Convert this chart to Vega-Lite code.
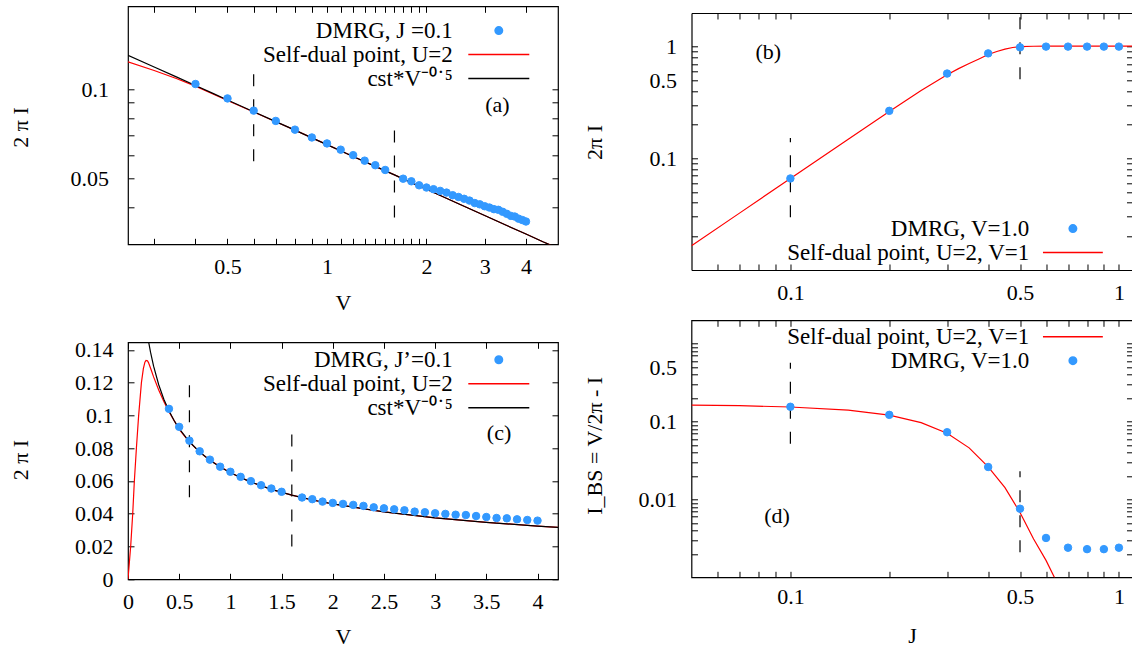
{
"$schema": "https://vega.github.io/schema/vega-lite/v6.json",
"padding": {"left": 9, "top": 4.3, "right": 0, "bottom": 0},
"background": "white",
"config": {
 "view": {"stroke": "black", "strokeWidth": 1.2},
 "font": "Liberation Serif",
 "axis": {"labelFont": "Liberation Serif", "labelFontSize": 22, "labelColor": "black", "titleFont": "Liberation Serif", "titleFontSize": 22, "titleFontWeight": "normal", "titleColor": "black", "tickColor": "black", "tickSize": -6, "tickWidth": 1, "grid": false, "domain": false, "domainColor": "black", "domainWidth": 1.2, "labelFlush": false, "labelOverlap": false, "labelBound": false, "labelAngle": 0},
 "legend": {"labelFont": "Liberation Serif", "labelFontSize": 23, "labelColor": "black", "labelLimit": 600, "symbolStrokeWidth": 1.5, "padding": 0, "symbolSize": 56},
 "text": {"font": "Liberation Serif", "fontSize": 22, "color": "black"}
},
"datasets": {
 "dmrgV": [
  {"V":0.4,"I":0.104,"s":"dmrg"},{"V":0.5,"I":0.093,"s":"dmrg"},{"V":0.6,"I":0.0846,"s":"dmrg"},{"V":0.7,"I":0.0781,"s":"dmrg"},{"V":0.8,"I":0.073,"s":"dmrg"},{"V":0.9,"I":0.0687,"s":"dmrg"},{"V":1.0,"I":0.0656,"s":"dmrg"},{"V":1.1,"I":0.0625,"s":"dmrg"},{"V":1.2,"I":0.0599,"s":"dmrg"},{"V":1.3,"I":0.0574,"s":"dmrg"},{"V":1.4,"I":0.0554,"s":"dmrg"},{"V":1.5,"I":0.0534,"s":"dmrg"},{"V":1.7,"I":0.0499,"s":"dmrg"},{"V":1.8,"I":0.0489,"s":"dmrg"},{"V":1.9,"I":0.0474,"s":"dmrg"},{"V":2.0,"I":0.0466,"s":"dmrg"},{"V":2.1,"I":0.046,"s":"dmrg"},{"V":2.2,"I":0.0454,"s":"dmrg"},{"V":2.3,"I":0.0448,"s":"dmrg"},{"V":2.4,"I":0.0439,"s":"dmrg"},{"V":2.5,"I":0.0433,"s":"dmrg"},{"V":2.6,"I":0.0427,"s":"dmrg"},{"V":2.7,"I":0.0421,"s":"dmrg"},{"V":2.8,"I":0.0413,"s":"dmrg"},{"V":2.9,"I":0.0409,"s":"dmrg"},{"V":3.0,"I":0.0403,"s":"dmrg"},{"V":3.1,"I":0.0399,"s":"dmrg"},{"V":3.2,"I":0.0394,"s":"dmrg"},{"V":3.3,"I":0.0392,"s":"dmrg"},{"V":3.4,"I":0.0386,"s":"dmrg"},{"V":3.5,"I":0.038,"s":"dmrg"},{"V":3.6,"I":0.0374,"s":"dmrg"},{"V":3.7,"I":0.0372,"s":"dmrg"},{"V":3.8,"I":0.0366,"s":"dmrg"},{"V":3.9,"I":0.0362,"s":"dmrg"},{"V":4.0,"I":0.0358,"s":"dmrg"}
 ],
 "sdV": [
  {"V":0,"I":0,"s":"sd"},{"V":0.013,"I":0.01,"s":"sd"},{"V":0.026,"I":0.02,"s":"sd"},{"V":0.046,"I":0.04,"s":"sd"},{"V":0.062,"I":0.06,"s":"sd"},{"V":0.082,"I":0.08,"s":"sd"},{"V":0.104,"I":0.1,"s":"sd"},{"V":0.131,"I":0.12,"s":"sd"},{"V":0.15,"I":0.1285,"s":"sd"},{"V":0.165,"I":0.1325,"s":"sd"},{"V":0.176,"I":0.1335,"s":"sd"},{"V":0.19,"I":0.1333,"s":"sd"},{"V":0.2,"I":0.1322,"s":"sd"},{"V":0.225,"I":0.128,"s":"sd"},{"V":0.25,"I":0.1235,"s":"sd"},{"V":0.3,"I":0.1155,"s":"sd"},{"V":0.35,"I":0.1085,"s":"sd"},{"V":0.4,"I":0.1023,"s":"sd"},{"V":0.5,"I":0.0915,"s":"sd"},{"V":0.6,"I":0.0837,"s":"sd"},{"V":0.7,"I":0.0776,"s":"sd"},{"V":0.8,"I":0.0727,"s":"sd"},{"V":1,"I":0.065,"s":"sd"},{"V":1.2,"I":0.0593,"s":"sd"},{"V":1.4,"I":0.0549,"s":"sd"},{"V":1.6,"I":0.0514,"s":"sd"},{"V":1.8,"I":0.0484,"s":"sd"},{"V":2,"I":0.046,"s":"sd"},{"V":2.5,"I":0.0411,"s":"sd"},{"V":3,"I":0.0375,"s":"sd"},{"V":3.5,"I":0.0347,"s":"sd"},{"V":4,"I":0.0325,"s":"sd"},{"V":4.5,"I":0.0306,"s":"sd"},{"V":5,"I":0.0291,"s":"sd"}
 ],
 "cstV": [
  {"V":0.2,"I":0.1453,"s":"cst"},{"V":0.22,"I":0.1386,"s":"cst"},{"V":0.25,"I":0.13,"s":"cst"},{"V":0.3,"I":0.1187,"s":"cst"},{"V":0.35,"I":0.1099,"s":"cst"},{"V":0.4,"I":0.1028,"s":"cst"},{"V":0.45,"I":0.0969,"s":"cst"},{"V":0.5,"I":0.0919,"s":"cst"},{"V":0.6,"I":0.0839,"s":"cst"},{"V":0.7,"I":0.0777,"s":"cst"},{"V":0.8,"I":0.0727,"s":"cst"},{"V":0.9,"I":0.0685,"s":"cst"},{"V":1,"I":0.065,"s":"cst"},{"V":1.2,"I":0.0593,"s":"cst"},{"V":1.4,"I":0.0549,"s":"cst"},{"V":1.6,"I":0.0514,"s":"cst"},{"V":1.8,"I":0.0484,"s":"cst"},{"V":2,"I":0.046,"s":"cst"},{"V":2.5,"I":0.0411,"s":"cst"},{"V":3,"I":0.0375,"s":"cst"},{"V":3.5,"I":0.0347,"s":"cst"},{"V":4,"I":0.0325,"s":"cst"},{"V":4.5,"I":0.0306,"s":"cst"},{"V":5,"I":0.0291,"s":"cst"}
 ],
 "dashA": [{"V":0.6,"lo":0.0571,"hi":0.1121},{"V":1.6,"lo":0.0369,"hi":0.0727}],
 "dashC": [{"V":0.6,"lo":0.05,"hi":0.1185},{"V":1.6,"lo":0.02,"hi":0.0887}],
 "dmrgJb": [
  {"J":0.1,"I":0.066,"s":"dmrg"},{"J":0.2,"I":0.266,"s":"dmrg"},{"J":0.3,"I":0.574,"s":"dmrg"},{"J":0.4,"I":0.87,"s":"dmrg"},{"J":0.5,"I":0.985,"s":"dmrg"},{"J":0.6,"I":1.0,"s":"dmrg"},{"J":0.7,"I":1.0,"s":"dmrg"},{"J":0.8,"I":1.0,"s":"dmrg"},{"J":0.9,"I":1.0,"s":"dmrg"},{"J":1.0,"I":1.0,"s":"dmrg"}
 ],
 "sdJb": [
  {"J":0.05,"I":0.0165,"s":"sd"},{"J":0.07,"I":0.0323,"s":"sd"},{"J":0.1,"I":0.066,"s":"sd"},{"J":0.15,"I":0.148,"s":"sd"},{"J":0.2,"I":0.262,"s":"sd"},{"J":0.25,"I":0.405,"s":"sd"},{"J":0.3,"I":0.56,"s":"sd"},{"J":0.325,"I":0.635,"s":"sd"},{"J":0.35,"I":0.705,"s":"sd"},{"J":0.375,"I":0.775,"s":"sd"},{"J":0.4,"I":0.85,"s":"sd"},{"J":0.425,"I":0.905,"s":"sd"},{"J":0.45,"I":0.95,"s":"sd"},{"J":0.475,"I":0.982,"s":"sd"},{"J":0.5,"I":0.998,"s":"sd"},{"J":0.55,"I":1.008,"s":"sd"},{"J":0.6,"I":1.01,"s":"sd"},{"J":0.8,"I":1.01,"s":"sd"},{"J":1.1,"I":1.01,"s":"sd"}
 ],
 "dashB": [{"J":0.1,"lo":0.0297,"hi":0.152},{"J":0.5,"lo":0.511,"hi":1.97}],
 "dmrgJd": [
  {"J":0.1,"I":0.155,"s":"dmrg"},{"J":0.2,"I":0.122,"s":"dmrg"},{"J":0.3,"I":0.073,"s":"dmrg"},{"J":0.4,"I":0.0261,"s":"dmrg"},{"J":0.5,"I":0.0076,"s":"dmrg"},{"J":0.6,"I":0.0032,"s":"dmrg"},{"J":0.7,"I":0.0024,"s":"dmrg"},{"J":0.8,"I":0.0023,"s":"dmrg"},{"J":0.9,"I":0.0023,"s":"dmrg"},{"J":1.0,"I":0.0024,"s":"dmrg"}
 ],
 "sdJd": [
  {"J":0.05,"I":0.163,"s":"sd"},{"J":0.07,"I":0.16,"s":"sd"},{"J":0.1,"I":0.154,"s":"sd"},{"J":0.15,"I":0.14,"s":"sd"},{"J":0.2,"I":0.121,"s":"sd"},{"J":0.25,"I":0.097,"s":"sd"},{"J":0.3,"I":0.071,"s":"sd"},{"J":0.35,"I":0.046,"s":"sd"},{"J":0.4,"I":0.0262,"s":"sd"},{"J":0.45,"I":0.0142,"s":"sd"},{"J":0.5,"I":0.0068,"s":"sd"},{"J":0.55,"I":0.0031,"s":"sd"},{"J":0.6,"I":0.00165,"s":"sd"},{"J":0.64,"I":0.00095,"s":"sd"}
 ],
 "dashD": [{"J":0.1,"lo":0.0519,"hi":0.571},{"J":0.5,"lo":0.0021,"hi":0.023}]
},
"hconcat": [
 {"vconcat": [
  {"width": 430, "height": 238,
   "layer": [
    {"data": {"name": "dashA"}, "mark": {"type": "rule", "strokeDash": [12, 13], "color": "black", "strokeWidth": 1.2},
     "encoding": {
      "x": {"field": "V", "type": "quantitative", "scale": {"type": "log", "domain": [0.25, 5], "nice": false},
            "axis": {"orient": "bottom", "values": [0.3,0.4,0.5,0.6,0.7,0.8,0.9,1,1.1,1.2,1.3,1.4,1.5,1.6,1.7,1.8,1.9,2,3,4], "labelExpr": "indexof([0.5,1,2,3,4], datum.value) >= 0 ? format(datum.value, '~g') : ''", "labelBaseline": "middle", "labelPadding": 28.5, "title": "V", "titleX": 215, "titleY": 65, "titleBaseline": "alphabetic"}},
      "y": {"field": "lo", "type": "quantitative", "scale": {"type": "log", "domain": [0.03, 0.19], "nice": false},
            "axis": {"orient": "left", "values": [0.04,0.05,0.06,0.07,0.08,0.09,0.1], "labelExpr": "indexof([0.05,0.1], datum.value) >= 0 ? format(datum.value, '~g') : ''", "labelPadding": 25.5, "title": "2 π I", "titleX": -107.3, "titleY": 120.7, "titleBaseline": "middle"}},
      "y2": {"field": "hi"}
     }},
    {"data": {"name": "sdV"}, "transform": [{"filter": "datum.V > 0"}], "mark": {"type": "line", "clip": true, "strokeWidth": 1.2},
     "encoding": {
      "x": {"field": "V", "type": "quantitative", "axis": {"orient": "top", "values": [0.3,0.4,0.5,0.6,0.7,0.8,0.9,1,1.1,1.2,1.3,1.4,1.5,1.6,1.7,1.8,1.9,2,3,4], "labels": false, "title": null}},
      "y": {"field": "I", "type": "quantitative", "axis": {"orient": "right", "values": [0.04,0.05,0.06,0.07,0.08,0.09,0.1], "labels": false, "title": null}},
      "stroke": {"field": "s", "type": "nominal", "scale": {"domain": ["dmrg","sd","cst"], "range": ["#3399ff","#ff0000","#000000"]},
                 "legend": {"orient": "none", "legendX": 359.3, "legendY": 12.8, "title": null, "labelAlign": "right", "labelOffset": -57.6, "rowPadding": -0.6, "labelExpr": "datum.value == 'dmrg' ? 'DMRG, J =0.1' : datum.value == 'sd' ? 'Self-dual point, U=2' : 'cst*V⁻⁰˙⁵'"}}
     }},
    {"data": {"name": "cstV"}, "mark": {"type": "line", "clip": true, "strokeWidth": 1.2},
     "encoding": {
      "x": {"field": "V", "type": "quantitative", "axis": null},
      "y": {"field": "I", "type": "quantitative", "axis": null},
      "stroke": {"field": "s", "type": "nominal", "scale": {"domain": ["dmrg","sd","cst"], "range": ["#3399ff","#ff0000","#000000"]},
                 "legend": {"orient": "none", "legendX": 359.3, "legendY": 12.8, "title": null, "labelAlign": "right", "labelOffset": -57.6, "rowPadding": -0.6, "labelExpr": "datum.value == 'dmrg' ? 'DMRG, J =0.1' : datum.value == 'sd' ? 'Self-dual point, U=2' : 'cst*V⁻⁰˙⁵'"}}
     }},
    {"data": {"name": "dmrgV"}, "mark": {"type": "point", "opacity": 1, "clip": true, "strokeWidth": 1, "size": 56},
     "encoding": {
      "x": {"field": "V", "type": "quantitative", "axis": null},
      "y": {"field": "I", "type": "quantitative", "axis": null},
      "fill": {"field": "s", "type": "nominal", "scale": {"domain": ["dmrg","sd","cst"], "range": ["#3399ff","transparent","transparent"]},
               "legend": {"orient": "none", "legendX": 359.3, "legendY": 12.8, "title": null, "labelAlign": "right", "labelOffset": -57.6, "rowPadding": -0.6, "labelExpr": "datum.value == 'dmrg' ? 'DMRG, J =0.1' : datum.value == 'sd' ? 'Self-dual point, U=2' : 'cst*V⁻⁰˙⁵'"}},
      "stroke": {"field": "s", "type": "nominal", "scale": {"domain": ["dmrg","sd","cst"], "range": ["#3399ff","#ff0000","#000000"]},
                 "legend": {"orient": "none", "legendX": 359.3, "legendY": 12.8, "title": null, "labelAlign": "right", "labelOffset": -57.6, "rowPadding": -0.6, "labelExpr": "datum.value == 'dmrg' ? 'DMRG, J =0.1' : datum.value == 'sd' ? 'Self-dual point, U=2' : 'cst*V⁻⁰˙⁵'"}},
      "shape": {"field": "s", "type": "nominal", "scale": {"domain": ["dmrg","sd","cst"], "range": ["circle","M-8.15,0H8.15","M-8.15,0H8.15"]},
                "legend": {"orient": "none", "legendX": 359.3, "legendY": 12.8, "title": null, "labelAlign": "right", "labelOffset": -57.6, "rowPadding": -0.6, "labelExpr": "datum.value == 'dmrg' ? 'DMRG, J =0.1' : datum.value == 'sd' ? 'Self-dual point, U=2' : 'cst*V⁻⁰˙⁵'"}}
     }},
    {"data": {"values": [{}]}, "mark": {"type": "text", "text": "(a)", "align": "center", "baseline": "middle"},
     "encoding": {"x": {"datum": 3.28, "type": "quantitative", "axis": null}, "y": {"datum": 0.0885, "type": "quantitative", "axis": null}}}
   ],
   "resolve": {"axis": {"x": "independent", "y": "independent"}}
  },
  {"width": 430, "height": 237,
   "layer": [
    {"data": {"name": "dashC"}, "mark": {"type": "rule", "strokeDash": [12, 13], "color": "black", "strokeWidth": 1.2},
     "encoding": {
      "x": {"field": "V", "type": "quantitative", "scale": {"domain": [0, 4.2], "nice": false, "zero": false},
            "axis": {"orient": "bottom", "values": [0,0.5,1,1.5,2,2.5,3,3.5,4], "format": "~g", "labelBaseline": "middle", "labelPadding": 28, "title": "V", "titleX": 215, "titleY": 64.5, "titleBaseline": "alphabetic"}},
      "y": {"field": "lo", "type": "quantitative", "scale": {"domain": [0, 0.1446], "nice": false},
            "axis": {"orient": "left", "values": [0,0.02,0.04,0.06,0.08,0.1,0.12,0.14], "format": "~g", "labelPadding": 21, "title": "2 π I", "titleX": -107.3, "titleY": 117.3, "titleBaseline": "middle"}},
      "y2": {"field": "hi"}
     }},
    {"data": {"name": "sdV"}, "mark": {"type": "line", "clip": true, "strokeWidth": 1.2},
     "encoding": {
      "x": {"field": "V", "type": "quantitative", "axis": {"orient": "top", "values": [0,0.5,1,1.5,2,2.5,3,3.5,4], "labels": false, "title": null}},
      "y": {"field": "I", "type": "quantitative", "axis": {"orient": "right", "values": [0,0.02,0.04,0.06,0.08,0.1,0.12,0.14], "labels": false, "title": null}},
      "stroke": {"field": "s", "type": "nominal", "scale": {"domain": ["dmrg","sd","cst"], "range": ["#3399ff","#ff0000","#000000"]},
                 "legend": {"orient": "none", "legendX": 359.3, "legendY": 6, "title": null, "labelAlign": "right", "labelOffset": -57.6, "rowPadding": -0.6, "labelExpr": "datum.value == 'dmrg' ? 'DMRG, J’=0.1' : datum.value == 'sd' ? 'Self-dual point, U=2' : 'cst*V⁻⁰˙⁵'"}}
     }},
    {"data": {"name": "cstV"}, "mark": {"type": "line", "clip": true, "strokeWidth": 1.2},
     "encoding": {
      "x": {"field": "V", "type": "quantitative", "axis": null},
      "y": {"field": "I", "type": "quantitative", "axis": null},
      "stroke": {"field": "s", "type": "nominal", "scale": {"domain": ["dmrg","sd","cst"], "range": ["#3399ff","#ff0000","#000000"]},
                 "legend": {"orient": "none", "legendX": 359.3, "legendY": 6, "title": null, "labelAlign": "right", "labelOffset": -57.6, "rowPadding": -0.6, "labelExpr": "datum.value == 'dmrg' ? 'DMRG, J’=0.1' : datum.value == 'sd' ? 'Self-dual point, U=2' : 'cst*V⁻⁰˙⁵'"}}
     }},
    {"data": {"name": "dmrgV"}, "mark": {"type": "point", "opacity": 1, "clip": true, "strokeWidth": 1, "size": 56},
     "encoding": {
      "x": {"field": "V", "type": "quantitative", "axis": null},
      "y": {"field": "I", "type": "quantitative", "axis": null},
      "fill": {"field": "s", "type": "nominal", "scale": {"domain": ["dmrg","sd","cst"], "range": ["#3399ff","transparent","transparent"]},
               "legend": {"orient": "none", "legendX": 359.3, "legendY": 6, "title": null, "labelAlign": "right", "labelOffset": -57.6, "rowPadding": -0.6, "labelExpr": "datum.value == 'dmrg' ? 'DMRG, J’=0.1' : datum.value == 'sd' ? 'Self-dual point, U=2' : 'cst*V⁻⁰˙⁵'"}},
      "stroke": {"field": "s", "type": "nominal", "scale": {"domain": ["dmrg","sd","cst"], "range": ["#3399ff","#ff0000","#000000"]},
                 "legend": {"orient": "none", "legendX": 359.3, "legendY": 6, "title": null, "labelAlign": "right", "labelOffset": -57.6, "rowPadding": -0.6, "labelExpr": "datum.value == 'dmrg' ? 'DMRG, J’=0.1' : datum.value == 'sd' ? 'Self-dual point, U=2' : 'cst*V⁻⁰˙⁵'"}},
      "shape": {"field": "s", "type": "nominal", "scale": {"domain": ["dmrg","sd","cst"], "range": ["circle","M-8.15,0H8.15","M-8.15,0H8.15"]},
                "legend": {"orient": "none", "legendX": 359.3, "legendY": 6, "title": null, "labelAlign": "right", "labelOffset": -57.6, "rowPadding": -0.6, "labelExpr": "datum.value == 'dmrg' ? 'DMRG, J’=0.1' : datum.value == 'sd' ? 'Self-dual point, U=2' : 'cst*V⁻⁰˙⁵'"}}
     }},
    {"data": {"values": [{}]}, "mark": {"type": "text", "text": "(c)", "align": "center", "baseline": "middle"},
     "encoding": {"x": {"datum": 3.624, "type": "quantitative", "axis": null}, "y": {"datum": 0.0895, "type": "quantitative", "axis": null}}}
   ],
   "resolve": {"axis": {"x": "independent", "y": "independent"}}
  }
 ], "spacing": 98, "bounds": "flush",
 "resolve": {"scale": {"stroke": "independent", "fill": "independent", "shape": "independent"}}},
 {"vconcat": [
  {"width": 441, "height": 263.7, "view": {"stroke": null},
   "layer": [
    {"data": {"name": "dashB"}, "mark": {"type": "rule", "strokeDash": [12, 13], "color": "black", "strokeWidth": 1.2},
     "encoding": {
      "x": {"field": "J", "type": "quantitative", "scale": {"type": "log", "domain": [0.05, 1.1], "nice": false},
            "axis": {"orient": "bottom", "domain": true, "values": [0.06,0.07,0.08,0.09,0.1,0.2,0.3,0.4,0.5,0.6,0.7,0.8,0.9,1], "labelExpr": "indexof([0.1,0.5,1], datum.value) >= 0 ? format(datum.value, '~g') : ''", "labelBaseline": "middle", "labelPadding": 28.5, "title": null}},
      "y": {"field": "lo", "type": "quantitative", "scale": {"type": "log", "domain": [0.01, 2], "nice": false, "range": [263.7, 6.7]},
            "axis": {"orient": "left", "domain": true, "values": [0.02,0.03,0.04,0.05,0.06,0.07,0.08,0.09,0.1,0.2,0.3,0.4,0.5,0.6,0.7,0.8,0.9,1], "labelExpr": "indexof([0.1,0.5,1], datum.value) >= 0 ? format(datum.value, '~g') : ''", "labelPadding": 21, "title": "2π I", "titleX": -97, "titleY": 135.7, "titleBaseline": "middle"}},
      "y2": {"field": "hi"}
     }},
    {"data": {"name": "sdJb"}, "mark": {"type": "line", "clip": true, "strokeWidth": 1.2},
     "encoding": {
      "x": {"field": "J", "type": "quantitative", "axis": {"orient": "top", "domain": true, "offset": -6.7, "values": [0.06,0.07,0.08,0.09,0.1,0.2,0.3,0.4,0.5,0.6,0.7,0.8,0.9,1], "labels": false, "title": null}},
      "y": {"field": "I", "type": "quantitative", "axis": {"orient": "right", "domain": true, "values": [0.02,0.03,0.04,0.05,0.06,0.07,0.08,0.09,0.1,0.2,0.3,0.4,0.5,0.6,0.7,0.8,0.9,1], "labels": false, "title": null}},
      "stroke": {"field": "s", "type": "nominal", "scale": {"domain": ["dmrg","sd"], "range": ["#3399ff","#ff0000"]},
                 "legend": {"orient": "none", "legendX": 369.9, "legendY": 210.8, "title": null, "labelAlign": "right", "labelOffset": -55.2, "rowPadding": -0.9, "labelExpr": "datum.value == 'dmrg' ? 'DMRG, V=1.0' : 'Self-dual point, U=2, V=1'"}}
     }},
    {"data": {"name": "dmrgJb"}, "mark": {"type": "point", "opacity": 1, "clip": true, "strokeWidth": 1, "size": 56},
     "encoding": {
      "x": {"field": "J", "type": "quantitative", "axis": null},
      "y": {"field": "I", "type": "quantitative", "axis": null},
      "fill": {"field": "s", "type": "nominal", "scale": {"domain": ["dmrg","sd"], "range": ["#3399ff","transparent"]},
               "legend": {"orient": "none", "legendX": 369.9, "legendY": 210.8, "title": null, "labelAlign": "right", "labelOffset": -55.2, "rowPadding": -0.9, "labelExpr": "datum.value == 'dmrg' ? 'DMRG, V=1.0' : 'Self-dual point, U=2, V=1'"}},
      "stroke": {"field": "s", "type": "nominal", "scale": {"domain": ["dmrg","sd"], "range": ["#3399ff","#ff0000"]},
                 "legend": {"orient": "none", "legendX": 369.9, "legendY": 210.8, "title": null, "labelAlign": "right", "labelOffset": -55.2, "rowPadding": -0.9, "labelExpr": "datum.value == 'dmrg' ? 'DMRG, V=1.0' : 'Self-dual point, U=2, V=1'"}},
      "shape": {"field": "s", "type": "nominal", "scale": {"domain": ["dmrg","sd"], "range": ["circle","M-8,0H8"]},
                "legend": {"orient": "none", "legendX": 369.9, "legendY": 210.8, "title": null, "labelAlign": "right", "labelOffset": -55.2, "rowPadding": -0.9, "labelExpr": "datum.value == 'dmrg' ? 'DMRG, V=1.0' : 'Self-dual point, U=2, V=1'"}}
     }},
    {"data": {"values": [{}]}, "mark": {"type": "text", "text": "(b)", "align": "center", "baseline": "middle"},
     "encoding": {"x": {"datum": 0.0856, "type": "quantitative", "axis": null}, "y": {"datum": 0.9, "type": "quantitative", "axis": null}}}
   ],
   "resolve": {"axis": {"x": "independent", "y": "independent"}}
  },
  {"width": 441, "height": 257,
   "layer": [
    {"data": {"name": "dashD"}, "mark": {"type": "rule", "strokeDash": [12, 13], "color": "black", "strokeWidth": 1.2},
     "encoding": {
      "x": {"field": "J", "type": "quantitative", "scale": {"type": "log", "domain": [0.05, 1.1], "nice": false},
            "axis": {"orient": "bottom", "values": [0.06,0.07,0.08,0.09,0.1,0.2,0.3,0.4,0.5,0.6,0.7,0.8,0.9,1], "labelExpr": "indexof([0.1,0.5,1], datum.value) >= 0 ? format(datum.value, '~g') : ''", "labelBaseline": "middle", "labelPadding": 25, "title": "J", "titleX": 220.5, "titleY": 65, "titleBaseline": "alphabetic"}},
      "y": {"field": "lo", "type": "quantitative", "scale": {"type": "log", "domain": [0.001, 2], "nice": false},
            "axis": {"orient": "left", "values": [0.002,0.003,0.004,0.005,0.006,0.007,0.008,0.009,0.01,0.02,0.03,0.04,0.05,0.06,0.07,0.08,0.09,0.1,0.2,0.3,0.4,0.5,0.6,0.7,0.8,0.9,1], "labelExpr": "indexof([0.01,0.1,0.5], datum.value) >= 0 ? format(datum.value, '~g') : ''", "labelPadding": 21, "title": "I_BS = V/2π - I", "titleX": -97, "titleY": 125, "titleBaseline": "middle"}},
      "y2": {"field": "hi"}
     }},
    {"data": {"name": "sdJd"}, "mark": {"type": "line", "clip": true, "strokeWidth": 1.2},
     "encoding": {
      "x": {"field": "J", "type": "quantitative", "axis": {"orient": "top", "values": [0.06,0.07,0.08,0.09,0.1,0.2,0.3,0.4,0.5,0.6,0.7,0.8,0.9,1], "labels": false, "title": null}},
      "y": {"field": "I", "type": "quantitative", "axis": {"orient": "right", "values": [0.002,0.003,0.004,0.005,0.006,0.007,0.008,0.009,0.01,0.02,0.03,0.04,0.05,0.06,0.07,0.08,0.09,0.1,0.2,0.3,0.4,0.5,0.6,0.7,0.8,0.9,1], "labels": false, "title": null}},
      "stroke": {"field": "s", "type": "nominal", "scale": {"domain": ["sd","dmrg"], "range": ["#ff0000","#3399ff"]},
                 "legend": {"orient": "none", "legendX": 369.9, "legendY": 4.9, "title": null, "labelAlign": "right", "labelOffset": -55.2, "rowPadding": -0.9, "labelExpr": "datum.value == 'dmrg' ? 'DMRG, V=1.0' : 'Self-dual point, U=2, V=1'"}}
     }},
    {"data": {"name": "dmrgJd"}, "mark": {"type": "point", "opacity": 1, "clip": true, "strokeWidth": 1, "size": 56},
     "encoding": {
      "x": {"field": "J", "type": "quantitative", "axis": null},
      "y": {"field": "I", "type": "quantitative", "axis": null},
      "fill": {"field": "s", "type": "nominal", "scale": {"domain": ["sd","dmrg"], "range": ["transparent","#3399ff"]},
               "legend": {"orient": "none", "legendX": 369.9, "legendY": 4.9, "title": null, "labelAlign": "right", "labelOffset": -55.2, "rowPadding": -0.9, "labelExpr": "datum.value == 'dmrg' ? 'DMRG, V=1.0' : 'Self-dual point, U=2, V=1'"}},
      "stroke": {"field": "s", "type": "nominal", "scale": {"domain": ["sd","dmrg"], "range": ["#ff0000","#3399ff"]},
                 "legend": {"orient": "none", "legendX": 369.9, "legendY": 4.9, "title": null, "labelAlign": "right", "labelOffset": -55.2, "rowPadding": -0.9, "labelExpr": "datum.value == 'dmrg' ? 'DMRG, V=1.0' : 'Self-dual point, U=2, V=1'"}},
      "shape": {"field": "s", "type": "nominal", "scale": {"domain": ["sd","dmrg"], "range": ["M-8,0H8","circle"]},
                "legend": {"orient": "none", "legendX": 369.9, "legendY": 4.9, "title": null, "labelAlign": "right", "labelOffset": -55.2, "rowPadding": -0.9, "labelExpr": "datum.value == 'dmrg' ? 'DMRG, V=1.0' : 'Self-dual point, U=2, V=1'"}}
     }},
    {"data": {"values": [{}]}, "mark": {"type": "text", "text": "(d)", "align": "center", "baseline": "middle"},
     "encoding": {"x": {"datum": 0.0911, "type": "quantitative", "axis": null}, "y": {"datum": 0.00613, "type": "quantitative", "axis": null}}}
   ],
   "resolve": {"axis": {"x": "independent", "y": "independent"}}
  }
 ], "spacing": 50, "bounds": "flush",
 "resolve": {"scale": {"stroke": "independent", "fill": "independent", "shape": "independent"}}}
],
"spacing": 22.5,
"resolve": {"scale": {"stroke": "independent", "fill": "independent", "shape": "independent"}}
}
